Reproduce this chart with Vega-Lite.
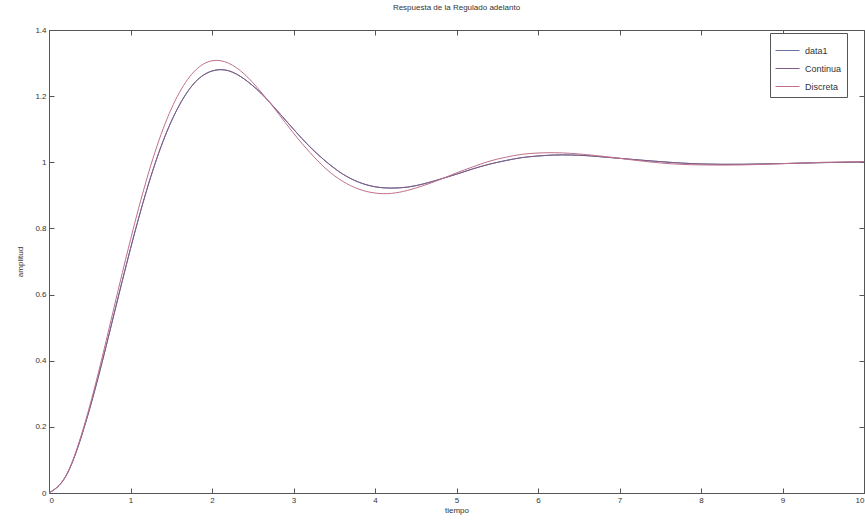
{
  "$schema": "https://vega.github.io/schema/vega-lite/v6.json",
  "width": 815,
  "height": 463,
  "autosize": {"type": "none"},
  "padding": {"left": 49, "top": 30, "right": 1, "bottom": 29},
  "background": "white",
  "config": {
    "font": "Liberation Sans",
    "view": {"stroke": "#555", "strokeWidth": 1},
    "axis": {"grid": false, "domainColor": "#555", "tickColor": "#555", "labelColor": "#333", "labelFontSize": 8, "titleFontSize": 8, "titleFontWeight": "normal", "titleColor": "#333"}
  },
  "title": {"text": "Respuesta de la Regulado adelanto", "fontSize": 8, "fontWeight": "normal", "color": "#333", "offset": 14, "anchor": "middle"},
  "datasets": {
    "curvas": [
      {"t": 0, "y": 0, "serie": "data1"}, {"t": 0.2, "y": 0.048, "serie": "data1"}, {"t": 0.4, "y": 0.173, "serie": "data1"}, {"t": 0.6, "y": 0.346, "serie": "data1"}, {"t": 0.8, "y": 0.543, "serie": "data1"}, {"t": 1.0, "y": 0.739, "serie": "data1"}, {"t": 1.2, "y": 0.917, "serie": "data1"}, {"t": 1.4, "y": 1.064, "serie": "data1"}, {"t": 1.6, "y": 1.173, "serie": "data1"}, {"t": 1.8, "y": 1.244, "serie": "data1"}, {"t": 2.0, "y": 1.276, "serie": "data1"}, {"t": 2.2, "y": 1.277, "serie": "data1"}, {"t": 2.4, "y": 1.251, "serie": "data1"}, {"t": 2.6, "y": 1.209, "serie": "data1"}, {"t": 2.8, "y": 1.156, "serie": "data1"}, {"t": 3.0, "y": 1.100, "serie": "data1"}, {"t": 3.2, "y": 1.047, "serie": "data1"}, {"t": 3.4, "y": 1.002, "serie": "data1"}, {"t": 3.6, "y": 0.965, "serie": "data1"}, {"t": 3.8, "y": 0.940, "serie": "data1"}, {"t": 4.0, "y": 0.926, "serie": "data1"}, {"t": 4.2, "y": 0.922, "serie": "data1"}, {"t": 4.4, "y": 0.925, "serie": "data1"}, {"t": 4.6, "y": 0.935, "serie": "data1"}, {"t": 4.8, "y": 0.949, "serie": "data1"}, {"t": 5.0, "y": 0.964, "serie": "data1"}, {"t": 5.2, "y": 0.980, "serie": "data1"}, {"t": 5.4, "y": 0.994, "serie": "data1"}, {"t": 5.6, "y": 1.005, "serie": "data1"}, {"t": 5.8, "y": 1.014, "serie": "data1"}, {"t": 6.0, "y": 1.019, "serie": "data1"}, {"t": 6.2, "y": 1.022, "serie": "data1"}, {"t": 6.4, "y": 1.022, "serie": "data1"}, {"t": 6.6, "y": 1.020, "serie": "data1"}, {"t": 6.8, "y": 1.016, "serie": "data1"}, {"t": 7.0, "y": 1.012, "serie": "data1"}, {"t": 7.5, "y": 1.002, "serie": "data1"}, {"t": 8.0, "y": 0.995, "serie": "data1"}, {"t": 8.5, "y": 0.994, "serie": "data1"}, {"t": 9.0, "y": 0.996, "serie": "data1"}, {"t": 9.5, "y": 0.999, "serie": "data1"}, {"t": 10, "y": 1.001, "serie": "data1"},
      {"t": 0, "y": 0, "serie": "Continua"}, {"t": 0.2, "y": 0.048, "serie": "Continua"}, {"t": 0.4, "y": 0.173, "serie": "Continua"}, {"t": 0.6, "y": 0.346, "serie": "Continua"}, {"t": 0.8, "y": 0.543, "serie": "Continua"}, {"t": 1.0, "y": 0.739, "serie": "Continua"}, {"t": 1.2, "y": 0.917, "serie": "Continua"}, {"t": 1.4, "y": 1.064, "serie": "Continua"}, {"t": 1.6, "y": 1.173, "serie": "Continua"}, {"t": 1.8, "y": 1.244, "serie": "Continua"}, {"t": 2.0, "y": 1.276, "serie": "Continua"}, {"t": 2.2, "y": 1.277, "serie": "Continua"}, {"t": 2.4, "y": 1.251, "serie": "Continua"}, {"t": 2.6, "y": 1.209, "serie": "Continua"}, {"t": 2.8, "y": 1.156, "serie": "Continua"}, {"t": 3.0, "y": 1.100, "serie": "Continua"}, {"t": 3.2, "y": 1.047, "serie": "Continua"}, {"t": 3.4, "y": 1.002, "serie": "Continua"}, {"t": 3.6, "y": 0.965, "serie": "Continua"}, {"t": 3.8, "y": 0.940, "serie": "Continua"}, {"t": 4.0, "y": 0.926, "serie": "Continua"}, {"t": 4.2, "y": 0.922, "serie": "Continua"}, {"t": 4.4, "y": 0.925, "serie": "Continua"}, {"t": 4.6, "y": 0.935, "serie": "Continua"}, {"t": 4.8, "y": 0.949, "serie": "Continua"}, {"t": 5.0, "y": 0.964, "serie": "Continua"}, {"t": 5.2, "y": 0.980, "serie": "Continua"}, {"t": 5.4, "y": 0.994, "serie": "Continua"}, {"t": 5.6, "y": 1.005, "serie": "Continua"}, {"t": 5.8, "y": 1.014, "serie": "Continua"}, {"t": 6.0, "y": 1.019, "serie": "Continua"}, {"t": 6.2, "y": 1.022, "serie": "Continua"}, {"t": 6.4, "y": 1.022, "serie": "Continua"}, {"t": 6.6, "y": 1.020, "serie": "Continua"}, {"t": 6.8, "y": 1.016, "serie": "Continua"}, {"t": 7.0, "y": 1.012, "serie": "Continua"}, {"t": 7.5, "y": 1.002, "serie": "Continua"}, {"t": 8.0, "y": 0.995, "serie": "Continua"}, {"t": 8.5, "y": 0.994, "serie": "Continua"}, {"t": 9.0, "y": 0.996, "serie": "Continua"}, {"t": 9.5, "y": 0.999, "serie": "Continua"}, {"t": 10, "y": 1.001, "serie": "Continua"},
      {"t": 0, "y": 0, "serie": "Discreta"}, {"t": 0.2, "y": 0.049, "serie": "Discreta"}, {"t": 0.4, "y": 0.178, "serie": "Discreta"}, {"t": 0.6, "y": 0.358, "serie": "Discreta"}, {"t": 0.8, "y": 0.563, "serie": "Discreta"}, {"t": 1.0, "y": 0.766, "serie": "Discreta"}, {"t": 1.2, "y": 0.950, "serie": "Discreta"}, {"t": 1.4, "y": 1.101, "serie": "Discreta"}, {"t": 1.6, "y": 1.211, "serie": "Discreta"}, {"t": 1.8, "y": 1.279, "serie": "Discreta"}, {"t": 2.0, "y": 1.307, "serie": "Discreta"}, {"t": 2.2, "y": 1.300, "serie": "Discreta"}, {"t": 2.4, "y": 1.266, "serie": "Discreta"}, {"t": 2.6, "y": 1.213, "serie": "Discreta"}, {"t": 2.8, "y": 1.152, "serie": "Discreta"}, {"t": 3.0, "y": 1.088, "serie": "Discreta"}, {"t": 3.2, "y": 1.030, "serie": "Discreta"}, {"t": 3.4, "y": 0.980, "serie": "Discreta"}, {"t": 3.6, "y": 0.943, "serie": "Discreta"}, {"t": 3.8, "y": 0.919, "serie": "Discreta"}, {"t": 4.0, "y": 0.907, "serie": "Discreta"}, {"t": 4.2, "y": 0.906, "serie": "Discreta"}, {"t": 4.4, "y": 0.915, "serie": "Discreta"}, {"t": 4.6, "y": 0.930, "serie": "Discreta"}, {"t": 4.8, "y": 0.948, "serie": "Discreta"}, {"t": 5.0, "y": 0.968, "serie": "Discreta"}, {"t": 5.2, "y": 0.986, "serie": "Discreta"}, {"t": 5.4, "y": 1.003, "serie": "Discreta"}, {"t": 5.6, "y": 1.015, "serie": "Discreta"}, {"t": 5.8, "y": 1.024, "serie": "Discreta"}, {"t": 6.0, "y": 1.028, "serie": "Discreta"}, {"t": 6.2, "y": 1.029, "serie": "Discreta"}, {"t": 6.4, "y": 1.027, "serie": "Discreta"}, {"t": 6.6, "y": 1.023, "serie": "Discreta"}, {"t": 6.8, "y": 1.018, "serie": "Discreta"}, {"t": 7.0, "y": 1.012, "serie": "Discreta"}, {"t": 7.5, "y": 0.998, "serie": "Discreta"}, {"t": 8.0, "y": 0.992, "serie": "Discreta"}, {"t": 8.5, "y": 0.992, "serie": "Discreta"}, {"t": 9.0, "y": 0.996, "serie": "Discreta"}, {"t": 9.5, "y": 1.000, "serie": "Discreta"}, {"t": 10, "y": 1.002, "serie": "Discreta"}
    ]
  },
  "data": {"name": "curvas"},
  "layer": [
    {
      "mark": {"type": "line", "strokeWidth": 1, "opacity": 0},
      "encoding": {
        "x": {"field": "t", "type": "quantitative", "scale": {"domain": [0, 10], "nice": false}, "axis": {"orient": "top", "labels": false, "title": null, "domain": false, "values": [0,1,2,3,4,5,6,7,8,9,10], "tickSize": -5}},
        "y": {"field": "y", "type": "quantitative", "scale": {"domain": [0, 1.4], "nice": false}, "axis": {"orient": "right", "labels": false, "title": null, "domain": false, "values": [0,0.2,0.4,0.6,0.8,1,1.2,1.4], "tickSize": -5}},
        "detail": {"field": "serie"}
      }
    },
    {
      "mark": {"type": "line", "strokeWidth": 1, "interpolate": "natural"},
      "encoding": {
        "x": {"field": "t", "type": "quantitative", "scale": {"domain": [0, 10], "nice": false}, "axis": {"orient": "bottom", "title": "tiempo", "values": [0,1,2,3,4,5,6,7,8,9,10], "tickSize": -5, "labelPadding": 8, "titlePadding": 2}},
        "y": {"field": "y", "type": "quantitative", "scale": {"domain": [0, 1.4], "nice": false}, "axis": {"orient": "left", "title": "amplitud", "values": [0,0.2,0.4,0.6,0.8,1,1.2,1.4], "format": "~g", "tickSize": -5, "labelPadding": 8, "titlePadding": 10}},
        "color": {
          "field": "serie", "type": "nominal",
          "scale": {"domain": ["data1", "Continua", "Discreta"], "range": ["#6a72a0", "#7e5c86", "#c0708a"]},
          "legend": {"title": null, "orient": "none", "legendX": 721, "legendY": 3, "symbolType": "stroke", "symbolSize": 576, "symbolStrokeWidth": 1, "labelFontSize": 9, "labelColor": "#333", "labelOffset": 5, "strokeColor": "#555", "fillColor": "white", "padding": 5, "rowPadding": -14, "labelLimit": 70}
        }
      }
    }
  ],
  "resolve": {"axis": {"x": "independent", "y": "independent"}}
}
